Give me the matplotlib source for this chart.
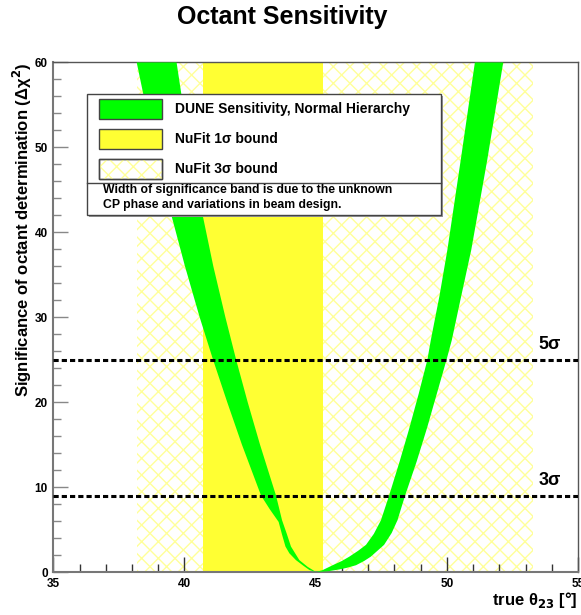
import numpy as np
import matplotlib.pyplot as plt
from matplotlib.patches import Rectangle
from matplotlib.ticker import MultipleLocator

plt.rcParams['font.family'] = ['Liberation Sans', 'DejaVu Sans']
plt.rcParams['font.weight'] = 'bold'
plt.rcParams['mathtext.default'] = 'bf'
plt.rcParams['hatch.linewidth'] = 1.0

# NuFit allowed ranges of theta23 [deg]
nufit_1sigma = [40.7, 45.3]
nufit_3sigma = [38.2, 53.3]

# significance thresholds (delta chi^2)
sigma_levels = [9, 25]
sigma_names = ['3σ', '5σ']

# DUNE octant sensitivity band: upper and lower edge of delta chi^2 vs theta23
upper_theta = [39.70, 40.09, 40.56, 41.10, 41.56, 41.97, 42.41, 42.88, 43.49,
               43.72, 43.90, 44.06, 44.38, 44.70, 44.89, 45.00,
               45.25, 45.65, 46.00, 46.28, 46.62, 46.92, 47.22, 47.49, 47.80,
               48.20, 48.55, 48.93, 49.26, 49.39, 49.72, 50.02, 50.53, 51.07]
upper_chi2 = [60.0, 52.0, 44.0, 36.0, 30.0, 25.0, 20.0, 15.0, 9.0,
              6.1, 4.5, 3.0, 1.4, 0.6, 0.24, 0.0,
              0.2, 0.8, 1.3, 1.8, 2.5, 3.2, 4.5, 6.1, 9.0,
              13.0, 16.7, 21.0, 25.0, 27.3, 32.5, 37.9, 48.5, 60.0]
lower_theta = [38.18, 38.72, 39.33, 40.02, 40.58, 41.09, 41.63, 42.19, 42.92,
               43.25, 43.59, 43.72, 43.85, 44.00, 44.25, 44.55, 44.76, 45.00,
               45.50, 45.90, 46.20, 46.54, 46.85, 47.10, 47.61, 47.90, 48.12,
               48.41, 48.85, 49.25, 49.62, 49.99, 50.19, 50.55, 50.93, 51.54,
               52.15]
lower_chi2 = [60.0, 52.0, 44.0, 36.0, 30.0, 25.0, 20.0, 15.0, 9.0,
              7.4, 5.9, 4.4, 3.0, 2.2, 1.4, 0.7, 0.24, 0.0,
              0.1, 0.3, 0.5, 0.8, 1.3, 1.8, 3.2, 4.6, 6.1,
              9.0, 13.0, 17.0, 21.0, 25.0, 27.3, 32.5, 37.9, 48.5,
              60.0]

legend_labels = ['DUNE Sensitivity, Normal Hierarchy', 'NuFit 1σ bound', 'NuFit 3σ bound']
note_lines = ['Width of significance band is due to the unknown',
              'CP phase and variations in beam design.']

green = '#00ff00'
yellow = '#ffff33'
hatch_col = '#ffff99'

fig = plt.figure(figsize=(5.81, 6.15), dpi=100)
ax = fig.add_axes([0.0917, 0.0699, 0.9031, 0.8285])

# NuFit bands
ax.axvspan(*nufit_3sigma, facecolor='white', edgecolor=hatch_col, hatch='xx',
           lw=0, zorder=1)
ax.axvspan(*nufit_1sigma, facecolor=yellow, lw=0, zorder=2)

# sensitivity band as a closed polygon
band_x = upper_theta + lower_theta[::-1]
band_y = upper_chi2 + lower_chi2[::-1]
ax.fill(band_x, band_y, color=green, lw=0, zorder=3)

for lev, name in zip(sigma_levels, sigma_names):
    ax.axhline(lev, color='black', ls=(0, (1.7, 1.0)), lw=2.2, zorder=4)
    ax.text(53.5, lev + 0.8, name, fontsize=13, va='bottom', ha='left', zorder=5)

ax.set_xlim(35, 55)
ax.set_ylim(0, 60)
ax.xaxis.set_major_locator(MultipleLocator(5))
ax.xaxis.set_minor_locator(MultipleLocator(1))
ax.yaxis.set_major_locator(MultipleLocator(10))
ax.yaxis.set_minor_locator(MultipleLocator(2))
ax.tick_params(axis='x', which='both', direction='in', color='#333333', width=1,
               labelsize=8.5, pad=4)
ax.tick_params(axis='y', which='both', direction='in', color='#888888', width=1,
               labelsize=8.5, pad=4)
ax.tick_params(which='major', length=11)
ax.tick_params(which='minor', length=6)
for lab in ax.get_xticklabels() + ax.get_yticklabels():
    lab.set_fontweight('bold')
for side in ['left', 'bottom']:
    ax.spines[side].set_color('#777777')
    ax.spines[side].set_linewidth(1.5)
for side in ['top', 'right']:
    ax.spines[side].set_color('#555555')
    ax.spines[side].set_linewidth(1.0)

# legend box
tr = ax.transAxes
x0, x1, y0, y1 = 0.0637, 0.7389, 0.7007, 0.9376
ax.add_patch(Rectangle((x0 + 0.004, y0 - 0.004), x1 - x0, y1 - y0, transform=tr,
                       facecolor='#999999', edgecolor='none', zorder=6))
ax.add_patch(Rectangle((x0, y0), x1 - x0, y1 - y0, transform=tr,
                       facecolor='white', edgecolor='#444444', lw=1, zorder=7))
ax.plot([x0, x1], [0.7629, 0.7629], transform=tr, color='#444444', lw=1, zorder=8)

entry_y = [0.8885, 0.8297, 0.7708]
entry_h = 0.0399
styles = [dict(facecolor=green), dict(facecolor=yellow),
          dict(facecolor='white')]
for ey, lab, st in zip(entry_y, legend_labels, styles):
    ax.add_patch(Rectangle((0.0877, ey), 0.1189, entry_h, transform=tr,
                           edgecolor='#444444', lw=1, zorder=8, **st))
    if st['facecolor'] == 'white':
        ax.add_patch(Rectangle((0.0877, ey), 0.1189, entry_h, transform=tr,
                               facecolor='none', edgecolor=hatch_col, hatch='xx',
                               lw=0, zorder=8.5))
        ax.add_patch(Rectangle((0.0877, ey), 0.1189, entry_h, transform=tr,
                               facecolor='none', edgecolor='#444444', lw=1, zorder=8.6))
    ax.text(0.2319, ey + entry_h / 2, lab, transform=tr, fontsize=10,
            va='center', ha='left', zorder=9)

for ty, line in zip([0.7498, 0.7203], note_lines):
    ax.text(0.0953, ty, line, transform=tr, fontsize=8.8, va='center', ha='left', zorder=9)

fig.text(0.485, 0.972, 'Octant Sensitivity', fontsize=18, ha='center', va='center')
fig.text(0.038, 0.899, 'Significance of octant determination (Δχ$^2$)', fontsize=12,
         rotation=90, ha='center', va='top')
fig.text(0.993, 0.024, 'true θ$_{23}$ [°]', fontsize=12, ha='right', va='center')

fig.savefig('out.png', dpi=100)
